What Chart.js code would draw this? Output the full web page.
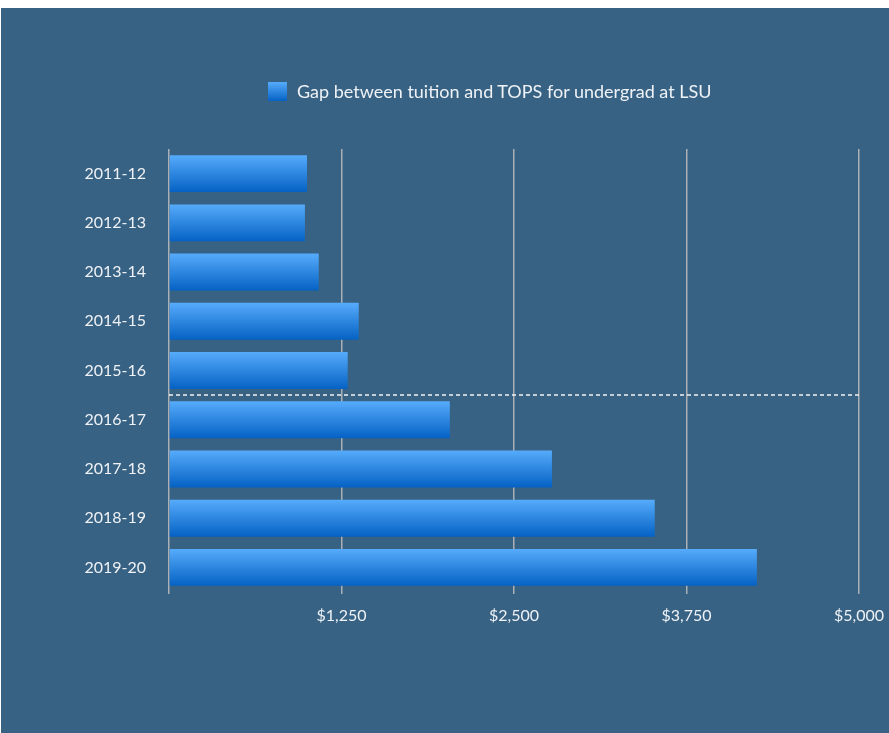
<!DOCTYPE html>
<html lang="en">
<head>
  <meta charset="UTF-8"/>
  <title>Gap between tuition and TOPS</title>
  <script src="https://cdn.jsdelivr.net/npm/chart.js"></script>
  <style>
    body {
      margin: 0;
      background: #fff;
      font-family: 'Lato', sans-serif;
    }

    .panel {
      position: absolute;
      left: 1px;
      top: 8px;
      width: 888px;
      height: 725px;
      background: #386283;
    }

    .legend {
      position: absolute;
      left: 267px;
      top: 72px;
      display: flex;
      align-items: center;
      color: #eef2f6;
      font-size: 18px;
      white-space: nowrap;
    }

    .legend .swatch {
      width: 19px;
      height: 19px;
      margin-right: 10px;
      background: linear-gradient(#56abfb, #0562c4);
    }

    canvas {
      position: absolute;
      left: 0;
      top: 0;
    }
  </style>
</head>
<body>

  <div class="panel">
    <canvas id="gapChart" width="888" height="725"></canvas>
    <div class="legend"><span class="swatch"></span><span>Gap between tuition and TOPS for undergrad at LSU</span></div>
  </div>

  <script>
    const years = ["2011-12", "2012-13", "2013-14", "2014-15", "2015-16", "2016-17", "2017-18", "2018-19", "2019-20"];
    const gapValues = [1000, 985, 1085, 1375, 1295, 2035, 2775, 3520, 4260];
    const xTicks = [0, 1250, 2500, 3750, 5000];
    const dividerAfter = "2015-16";

    const barTop = "#56abfb";
    const barBottom = "#0562c4";
    const barPct = 0.75;

    function barFill(ctx) {
      const chart = ctx.chart;
      const ys = chart.scales.y;
      if (!chart.chartArea || !ys) return barBottom;
      const c = ys.getPixelForValue(ctx.dataIndex);
      const half = (ys.getPixelForValue(1) - ys.getPixelForValue(0)) * barPct / 2;
      const g = chart.ctx.createLinearGradient(0, c - half, 0, c + half);
      g.addColorStop(0, barTop);
      g.addColorStop(1, barBottom);
      return g;
    }

    // dotted line between 2015-16 and 2016-17
    const dividerLine = {
      id: "dividerLine",
      afterDraw(chart) {
        const ys = chart.scales.y;
        const i = years.indexOf(dividerAfter);
        const y = (ys.getPixelForValue(i) + ys.getPixelForValue(i + 1)) / 2;
        const ctx = chart.ctx;
        ctx.save();
        ctx.strokeStyle = "#f2f2f2";
        ctx.lineWidth = 1.5;
        ctx.setLineDash([4, 3]);
        ctx.beginPath();
        ctx.moveTo(chart.chartArea.left, y);
        ctx.lineTo(chart.chartArea.right, y);
        ctx.stroke();
        ctx.restore();
      }
    };

    new Chart(document.getElementById("gapChart"), {
      type: "bar",
      data: {
        labels: years,
        datasets: [{
          label: "Gap between tuition and TOPS for undergrad at LSU",
          data: gapValues,
          backgroundColor: barFill,
          borderWidth: 0,
          barPercentage: barPct,
          categoryPercentage: 1
        }]
      },
      options: {
        indexAxis: "y",
        responsive: false,
        animation: false,
        layout: {
          padding: { top: 141, right: 30, bottom: 0, left: 0 }
        },
        plugins: {
          legend: { display: false },
          tooltip: { enabled: false }
        },
        scales: {
          x: {
            min: xTicks[0],
            max: xTicks[xTicks.length - 1],
            afterFit: s => { s.height = 141; s.paddingLeft = 0; s.paddingRight = 0; },
            afterBuildTicks: s => { s.ticks = xTicks.map(v => ({ value: v })); },
            border: { display: false },
            grid: {
              color: "#aab0b6",
              lineWidth: 1.5,
              drawTicks: true,
              tickLength: 2
            },
            ticks: {
              autoSkip: false,
              maxRotation: 0,
              padding: 12,
              color: "#eef2f6",
              font: { family: "Lato", size: 16 },
              callback: v => v === 0 ? "" : "$" + v.toLocaleString("en-US")
            }
          },
          y: {
            afterFit: s => { s.width = 168; },
            border: { display: false },
            grid: { display: false },
            ticks: {
              padding: 15,
              color: "#eef2f6",
              font: { family: "Lato", size: 16 }
            }
          }
        }
      },
      plugins: [dividerLine]
    });
  </script>
</body>
</html>
